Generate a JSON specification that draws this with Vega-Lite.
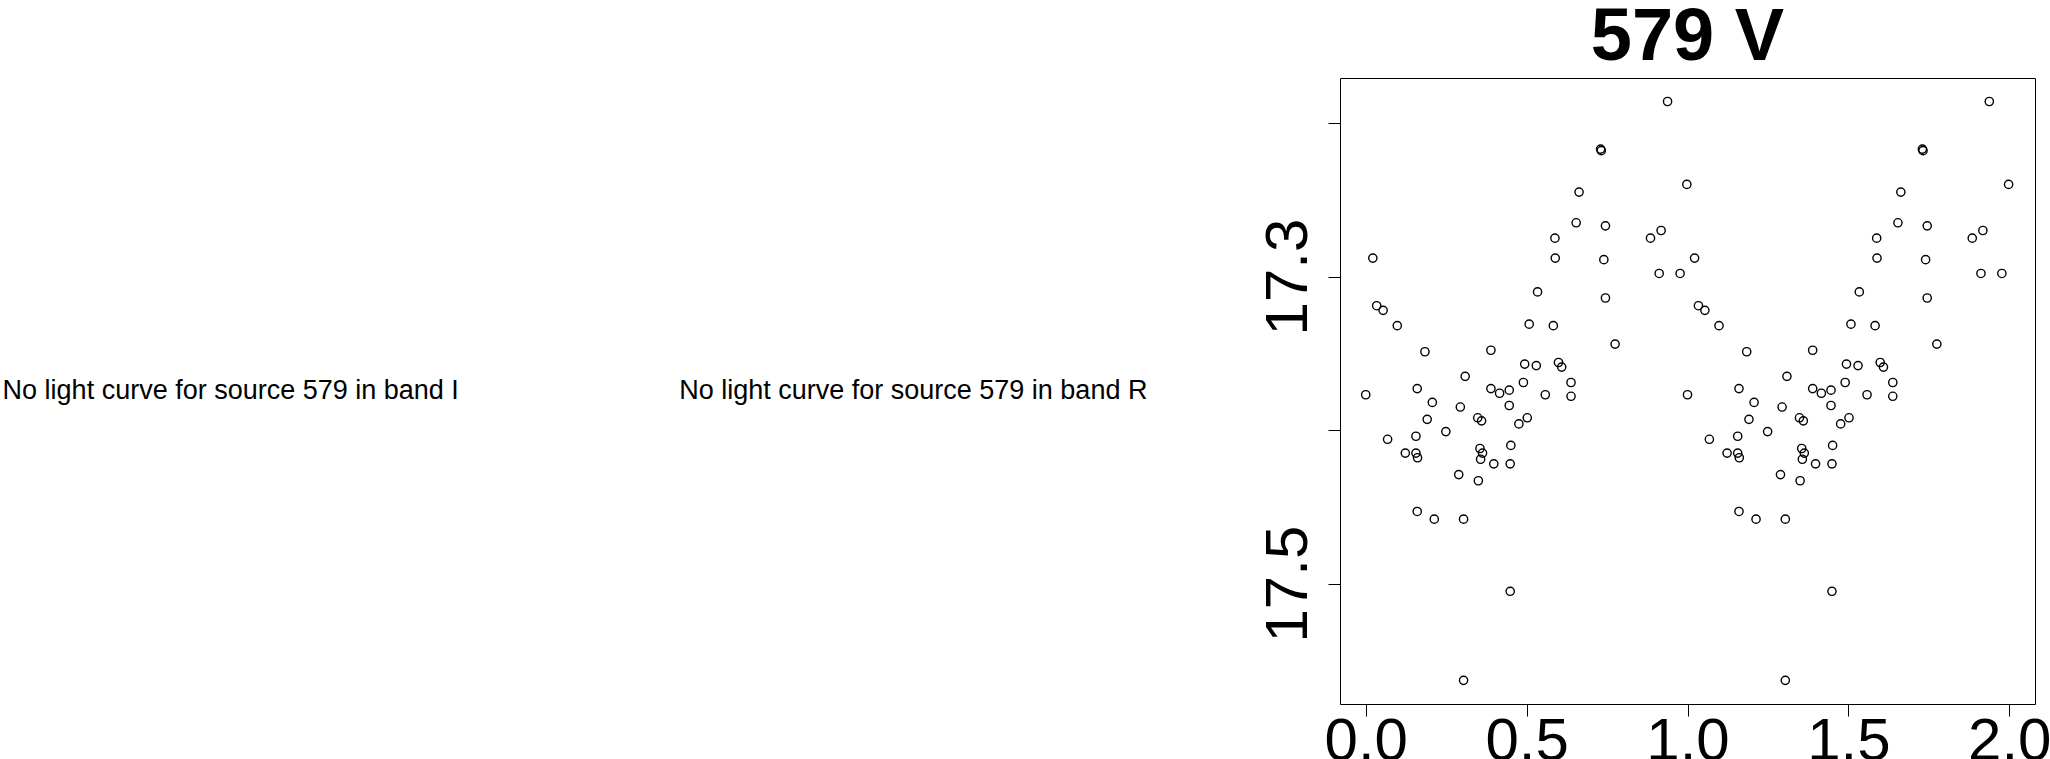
{
  "$schema": "https://vega.github.io/schema/vega-lite/v6.json",
  "padding": 0,
  "background": "white",
  "spacing": 196,
  "bounds": "flush",
  "config": {
    "view": {"stroke": "black", "strokeWidth": 1},
    "font": "Liberation Sans"
  },
  "datasets": {
    "msg": [
      {"band": "I", "text": "No light curve for source 579 in band I"},
      {"band": "R", "text": "No light curve for source 579 in band R"}
    ],
    "lc": [
      {"phase": 0.938, "mag": 17.186}, {"phase": 0.730, "mag": 17.217}, {"phase": 0.732, "mag": 17.218},
      {"phase": 0.998, "mag": 17.240}, {"phase": 0.663, "mag": 17.245}, {"phase": 0.654, "mag": 17.265},
      {"phase": 0.745, "mag": 17.267}, {"phase": 0.885, "mag": 17.275}, {"phase": 0.918, "mag": 17.270},
      {"phase": 0.588, "mag": 17.275}, {"phase": 0.589, "mag": 17.288}, {"phase": 0.740, "mag": 17.289},
      {"phase": 0.022, "mag": 17.288}, {"phase": 0.912, "mag": 17.298}, {"phase": 0.977, "mag": 17.298},
      {"phase": 0.534, "mag": 17.310}, {"phase": 0.745, "mag": 17.314}, {"phase": 0.034, "mag": 17.319},
      {"phase": 0.054, "mag": 17.322}, {"phase": 0.098, "mag": 17.332}, {"phase": 0.508, "mag": 17.331},
      {"phase": 0.583, "mag": 17.332}, {"phase": 0.775, "mag": 17.344}, {"phase": 0.184, "mag": 17.349},
      {"phase": 0.389, "mag": 17.348}, {"phase": 0.494, "mag": 17.357}, {"phase": 0.530, "mag": 17.358},
      {"phase": 0.599, "mag": 17.356}, {"phase": 0.609, "mag": 17.359}, {"phase": 0.309, "mag": 17.365},
      {"phase": 0.490, "mag": 17.369}, {"phase": 0.638, "mag": 17.369}, {"phase": 0.160, "mag": 17.373},
      {"phase": 0.389, "mag": 17.373}, {"phase": 0.416, "mag": 17.376}, {"phase": 0.446, "mag": 17.374},
      {"phase": 0.558, "mag": 17.377}, {"phase": 0.638, "mag": 17.378}, {"phase": 0.000, "mag": 17.377},
      {"phase": 0.446, "mag": 17.384}, {"phase": 0.207, "mag": 17.382}, {"phase": 0.294, "mag": 17.385},
      {"phase": 0.191, "mag": 17.393}, {"phase": 0.348, "mag": 17.392}, {"phase": 0.360, "mag": 17.394},
      {"phase": 0.502, "mag": 17.392}, {"phase": 0.476, "mag": 17.396}, {"phase": 0.249, "mag": 17.401},
      {"phase": 0.068, "mag": 17.406}, {"phase": 0.156, "mag": 17.404}, {"phase": 0.123, "mag": 17.415},
      {"phase": 0.156, "mag": 17.415}, {"phase": 0.161, "mag": 17.418}, {"phase": 0.355, "mag": 17.412},
      {"phase": 0.363, "mag": 17.415}, {"phase": 0.357, "mag": 17.419}, {"phase": 0.451, "mag": 17.410},
      {"phase": 0.398, "mag": 17.422}, {"phase": 0.449, "mag": 17.422}, {"phase": 0.289, "mag": 17.429},
      {"phase": 0.350, "mag": 17.433}, {"phase": 0.160, "mag": 17.453}, {"phase": 0.213, "mag": 17.458},
      {"phase": 0.304, "mag": 17.458}, {"phase": 0.449, "mag": 17.505}, {"phase": 0.304, "mag": 17.563},
      {"phase": 1.938, "mag": 17.186}, {"phase": 1.730, "mag": 17.217}, {"phase": 1.732, "mag": 17.218},
      {"phase": 1.998, "mag": 17.240}, {"phase": 1.663, "mag": 17.245}, {"phase": 1.654, "mag": 17.265},
      {"phase": 1.745, "mag": 17.267}, {"phase": 1.885, "mag": 17.275}, {"phase": 1.918, "mag": 17.270},
      {"phase": 1.588, "mag": 17.275}, {"phase": 1.589, "mag": 17.288}, {"phase": 1.740, "mag": 17.289},
      {"phase": 1.022, "mag": 17.288}, {"phase": 1.912, "mag": 17.298}, {"phase": 1.977, "mag": 17.298},
      {"phase": 1.534, "mag": 17.310}, {"phase": 1.745, "mag": 17.314}, {"phase": 1.034, "mag": 17.319},
      {"phase": 1.054, "mag": 17.322}, {"phase": 1.098, "mag": 17.332}, {"phase": 1.508, "mag": 17.331},
      {"phase": 1.583, "mag": 17.332}, {"phase": 1.775, "mag": 17.344}, {"phase": 1.184, "mag": 17.349},
      {"phase": 1.389, "mag": 17.348}, {"phase": 1.494, "mag": 17.357}, {"phase": 1.530, "mag": 17.358},
      {"phase": 1.599, "mag": 17.356}, {"phase": 1.609, "mag": 17.359}, {"phase": 1.309, "mag": 17.365},
      {"phase": 1.490, "mag": 17.369}, {"phase": 1.638, "mag": 17.369}, {"phase": 1.160, "mag": 17.373},
      {"phase": 1.389, "mag": 17.373}, {"phase": 1.416, "mag": 17.376}, {"phase": 1.446, "mag": 17.374},
      {"phase": 1.558, "mag": 17.377}, {"phase": 1.638, "mag": 17.378}, {"phase": 1.000, "mag": 17.377},
      {"phase": 1.446, "mag": 17.384}, {"phase": 1.207, "mag": 17.382}, {"phase": 1.294, "mag": 17.385},
      {"phase": 1.191, "mag": 17.393}, {"phase": 1.348, "mag": 17.392}, {"phase": 1.360, "mag": 17.394},
      {"phase": 1.502, "mag": 17.392}, {"phase": 1.476, "mag": 17.396}, {"phase": 1.249, "mag": 17.401},
      {"phase": 1.068, "mag": 17.406}, {"phase": 1.156, "mag": 17.404}, {"phase": 1.123, "mag": 17.415},
      {"phase": 1.156, "mag": 17.415}, {"phase": 1.161, "mag": 17.418}, {"phase": 1.355, "mag": 17.412},
      {"phase": 1.363, "mag": 17.415}, {"phase": 1.357, "mag": 17.419}, {"phase": 1.451, "mag": 17.410},
      {"phase": 1.398, "mag": 17.422}, {"phase": 1.449, "mag": 17.422}, {"phase": 1.289, "mag": 17.429},
      {"phase": 1.350, "mag": 17.433}, {"phase": 1.160, "mag": 17.453}, {"phase": 1.213, "mag": 17.458},
      {"phase": 1.304, "mag": 17.458}, {"phase": 1.449, "mag": 17.505}, {"phase": 1.304, "mag": 17.563}
    ]
  },
  "hconcat": [
    {
      "width": 1144,
      "height": 626,
      "view": {"stroke": null},
      "data": {"name": "msg"},
      "mark": {"type": "text", "fontSize": 27, "font": "Liberation Sans", "baseline": "middle", "align": "center", "color": "black"},
      "encoding": {
        "x": {"field": "band", "type": "nominal", "scale": {"type": "point", "domain": ["I", "R"], "padding": 0.338}, "axis": null},
        "text": {"field": "text"}
      }
    },
    {
      "width": 695,
      "height": 626,
      "title": {"text": "579 V", "fontSize": 74, "fontWeight": "bold", "font": "Liberation Sans", "offset": 2, "color": "black", "anchor": "middle"},
      "data": {"name": "lc"},
      "mark": {"type": "point", "shape": "circle", "filled": false, "size": 68, "strokeWidth": 1.4, "color": "black", "opacity": 1},
      "encoding": {
        "x": {
          "field": "phase", "type": "quantitative",
          "scale": {"domain": [-0.08, 2.08], "nice": false, "zero": false},
          "axis": {"values": [0, 0.5, 1, 1.5, 2], "format": ".1f", "title": null, "grid": false, "domain": false,
                   "tickSize": 12, "tickColor": "black", "tickWidth": 1,
                   "labelFontSize": 60, "labelFont": "Liberation Sans", "labelColor": "black",
                   "labelPadding": -4, "labelFlush": false, "labelOverlap": false, "labelBaseline": "top", "labelAlign": "center"}
        },
        "y": {
          "field": "mag", "type": "quantitative",
          "scale": {"domain": [17.1707, 17.5784], "reverse": true, "nice": false, "zero": false},
          "axis": {"values": [17.2, 17.3, 17.4, 17.5], "title": null, "grid": false, "domain": false,
                   "labelExpr": "abs(datum.value - 17.3) < 0.001 || abs(datum.value - 17.5) < 0.001 ? format(datum.value, '.1f') : ''",
                   "tickSize": 12, "tickColor": "black", "tickWidth": 1,
                   "labelFontSize": 60, "labelFont": "Liberation Sans", "labelColor": "black",
                   "labelAngle": -90, "labelAlign": "center", "labelBaseline": "alphabetic", "labelPadding": 22,
                   "labelFlush": false, "labelOverlap": false}
        }
      }
    }
  ]
}
